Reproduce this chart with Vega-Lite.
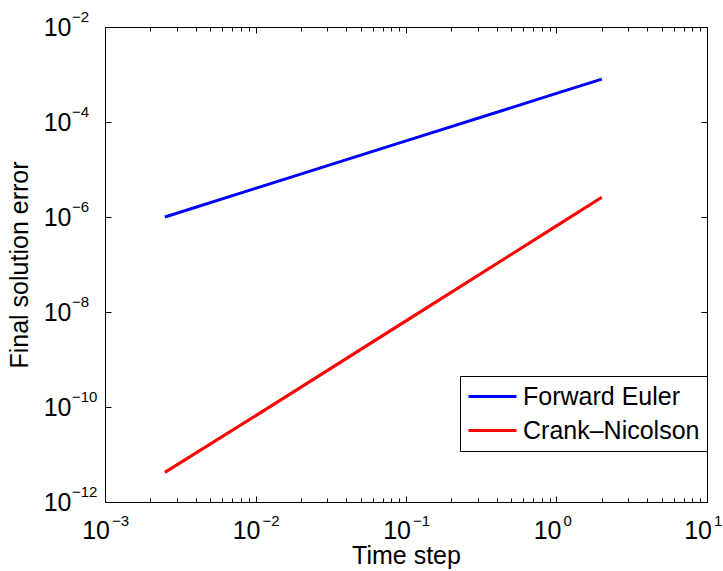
{
  "$schema": "https://vega.github.io/schema/vega-lite/v6.json",
  "width": 602,
  "height": 475,
  "autosize": "none",
  "padding": {"left": 105, "top": 27, "right": 16, "bottom": 69},
  "background": "white",
  "config": {
    "font": "Liberation Sans",
    "view": {"stroke": "black", "strokeWidth": 1},
    "axis": {"grid": false, "domain": false, "tickColor": "black", "tickWidth": 1, "labelColor": "black", "titleColor": "black", "labelFont": "Liberation Sans", "titleFont": "Liberation Sans", "labelFlush": false, "labelBound": false, "labelOverlap": false}
  },
  "resolve": {"axis": {"x": "independent", "y": "independent"}},
  "layer": [
    {
      "data": {
        "values": [
          {"method": "Forward Euler", "dt": 0.0025, "err": 1.0e-6},
          {"method": "Forward Euler", "dt": 0.01, "err": 4.0e-6},
          {"method": "Forward Euler", "dt": 0.1, "err": 4.0e-5},
          {"method": "Forward Euler", "dt": 1, "err": 4.0e-4},
          {"method": "Forward Euler", "dt": 2, "err": 8.0e-4},
          {"method": "Crank–Nicolson", "dt": 0.0025, "err": 4.2e-12},
          {"method": "Crank–Nicolson", "dt": 0.01, "err": 6.5e-11},
          {"method": "Crank–Nicolson", "dt": 0.1, "err": 6.5e-9},
          {"method": "Crank–Nicolson", "dt": 1, "err": 6.5e-7},
          {"method": "Crank–Nicolson", "dt": 2, "err": 2.6e-6}
        ]
      },
      "mark": {"type": "line", "strokeWidth": 3, "clip": true},
      "encoding": {
        "x": {
          "field": "dt", "type": "quantitative",
          "scale": {"type": "log", "domain": [0.001, 10], "nice": false},
          "axis": {
            "orient": "bottom",
            "values": [0.001, 0.002, 0.003, 0.004, 0.005, 0.006, 0.007, 0.008, 0.009, 0.01, 0.02, 0.03, 0.04, 0.05, 0.06, 0.07, 0.08, 0.09, 0.1, 0.2, 0.3, 0.4, 0.5, 0.6, 0.7, 0.8, 0.9, 1, 2, 3, 4, 5, 6, 7, 8, 9, 10],
            "labels": false,
            "tickSize": {"condition": {"test": "abs(log(datum.value)/LN10 - round(log(datum.value)/LN10)) < 1e-6", "value": -6}, "value": -4},
            "title": "Time step", "titleFontSize": 25, "titleFontWeight": "normal", "titlePadding": 41
          }
        },
        "y": {
          "field": "err", "type": "quantitative",
          "scale": {"type": "log", "domain": [1e-12, 0.01], "nice": false},
          "axis": {
            "orient": "left",
            "values": [1e-12, 1e-10, 1e-8, 1e-6, 1e-4, 0.01],
            "labelExpr": "'10'",
            "tickSize": -6,
            "labelFontSize": 25, "labelAlign": "right", "labelBaseline": "middle", "labelDy": 1.5, "labelPadding": 40,
            "title": "Final solution error", "titleFontSize": 25, "titleFontWeight": "normal", "titlePadding": 11
          }
        },
        "color": {
          "field": "method", "type": "nominal",
          "scale": {"domain": ["Forward Euler", "Crank–Nicolson"], "range": ["#0000ff", "#ff0000"]},
          "legend": {
            "orient": "none", "legendX": 355, "legendY": 349, "title": null,
            "symbolType": "M-1,0H3", "symbolSize": 576, "symbolStrokeWidth": 3,
            "labelFontSize": 25, "labelFont": "Liberation Sans", "labelColor": "black", "labelLimit": 0, "labelOffset": 29,
            "padding": 7, "rowPadding": 7,
            "strokeColor": "black", "fillColor": "white"
          }
        }
      }
    },
    {
      "data": {
        "values": [
          {"tick": 0.001, "sup": "−3"},
          {"tick": 0.01, "sup": "−2"},
          {"tick": 0.1, "sup": "−1"},
          {"tick": 1, "sup": "0"},
          {"tick": 10, "sup": "1"}
        ]
      },
      "mark": {"type": "text", "align": "left", "baseline": "alphabetic", "dx": 7, "dy": 23.5, "fontSize": 15, "color": "black", "font": "Liberation Sans"},
      "encoding": {
        "x": {
          "field": "tick", "type": "quantitative",
          "axis": {
            "orient": "top",
            "values": [0.001, 0.002, 0.003, 0.004, 0.005, 0.006, 0.007, 0.008, 0.009, 0.01, 0.02, 0.03, 0.04, 0.05, 0.06, 0.07, 0.08, 0.09, 0.1, 0.2, 0.3, 0.4, 0.5, 0.6, 0.7, 0.8, 0.9, 1, 2, 3, 4, 5, 6, 7, 8, 9, 10],
            "labels": false, "title": null,
            "tickSize": {"condition": {"test": "abs(log(datum.value)/LN10 - round(log(datum.value)/LN10)) < 1e-6", "value": -6}, "value": -4}
          }
        },
        "y": {
          "datum": 1e-12, "type": "quantitative",
          "axis": {"orient": "right", "values": [1e-12, 1e-10, 1e-8, 1e-6, 1e-4, 0.01], "labels": false, "title": null, "tickSize": -6}
        },
        "text": {"field": "sup"}
      }
    },
    {
      "data": {
        "values": [
          {"tick": 0.001, "base": "10"},
          {"tick": 0.01, "base": "10"},
          {"tick": 0.1, "base": "10"},
          {"tick": 1, "base": "10"},
          {"tick": 10, "base": "10"}
        ]
      },
      "mark": {"type": "text", "align": "right", "baseline": "middle", "dx": 5, "dy": 28.5, "fontSize": 25, "color": "black", "font": "Liberation Sans"},
      "encoding": {
        "x": {"field": "tick", "type": "quantitative", "axis": null},
        "y": {"datum": 1e-12, "type": "quantitative", "axis": null},
        "text": {"field": "base"}
      }
    },
    {
      "data": {
        "values": [
          {"tick": 1e-12, "sup": "−12"},
          {"tick": 1e-10, "sup": "−10"},
          {"tick": 1e-8, "sup": "−8"},
          {"tick": 1e-6, "sup": "−6"},
          {"tick": 1e-4, "sup": "−4"},
          {"tick": 0.01, "sup": "−2"}
        ]
      },
      "mark": {"type": "text", "align": "left", "baseline": "alphabetic", "dx": -33, "dy": -5.5, "fontSize": 15, "color": "black", "font": "Liberation Sans"},
      "encoding": {
        "y": {"field": "tick", "type": "quantitative", "axis": null},
        "x": {"datum": 0.001, "type": "quantitative", "axis": null},
        "text": {"field": "sup"}
      }
    }
  ]
}
